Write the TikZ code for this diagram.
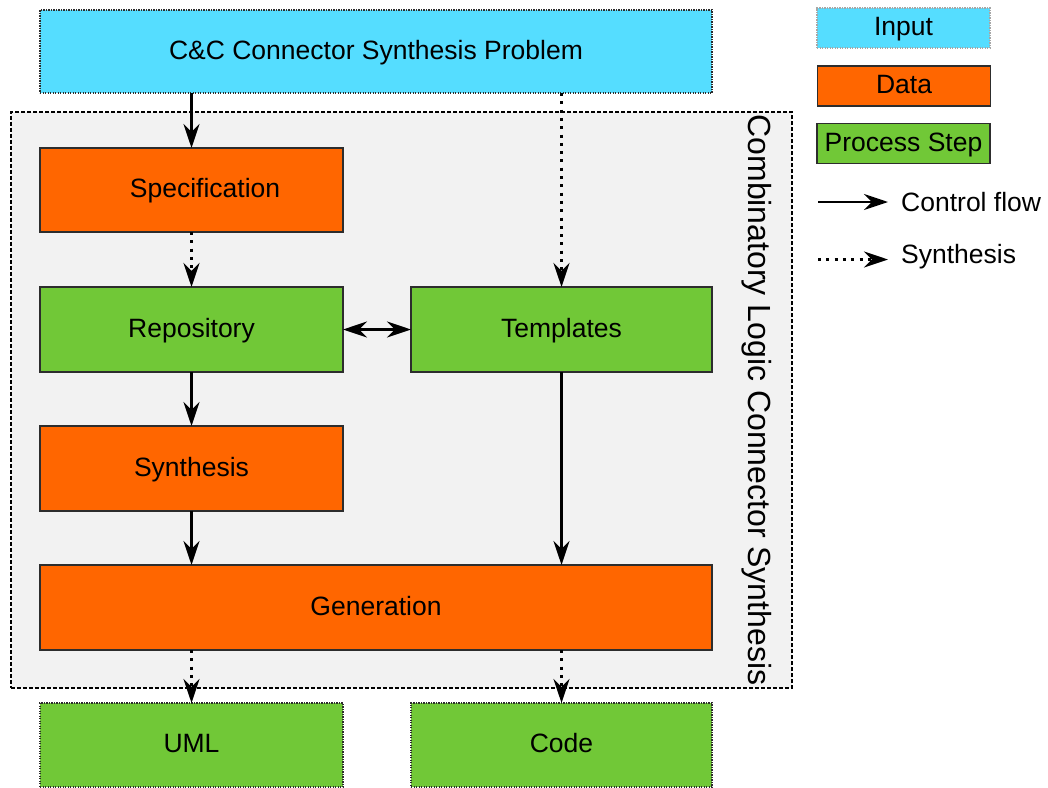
\documentclass[tikz,border=0pt]{standalone}
\usepackage{fontspec}
\setmainfont{Liberation Sans}
\usetikzlibrary{arrows.meta}
\definecolor{inputcol}{RGB}{85,221,255}
\definecolor{datacol}{RGB}{255,102,0}
\definecolor{stepcol}{RGB}{113,200,55}
\definecolor{framecol}{RGB}{242,242,242}
\definecolor{edgecol}{RGB}{45,45,45}
\begin{document}
\begin{tikzpicture}[x=1pt,y=-1pt,
  box/.style={rectangle, inner sep=0pt, outer sep=0pt, text height=19.5pt, text depth=4.5pt,
    font=\fontsize{26.5}{30}\selectfont, text=black},
  databox/.style={box, fill=datacol, draw=edgecol, line width=1.3pt},
  stepbox/.style={box, fill=stepcol, draw=edgecol, line width=1.3pt},
  inputbox/.style={box, fill=inputcol, draw=edgecol, line width=1.2pt, dash pattern=on 1.2pt off 1.3pt},
  outbox/.style={stepbox, dash pattern=on 1.2pt off 1.3pt},
  container/.style={rectangle, inner sep=0pt, fill=framecol, draw=black, line width=1.3pt, dash pattern=on 4pt off 2pt},
  legendtext/.style={font=\fontsize{26.5}{30}\selectfont, anchor=base west, inner sep=0pt},
  tip/.tip={Stealth[length=24pt,width=16pt,inset=8pt]},
  flow/.style={line width=2.8pt, -tip},
  synth/.style={line width=3pt, -tip, dash pattern=on 3pt off 5.3pt},
]
\useasboundingbox (0,0) rectangle (1048,787);

% enclosing synthesis frame
\node[container, minimum width=781, minimum height=576] (frame) at (401.5,400) {};
\node[font=\fontsize{32}{36}\selectfont, rotate=-90, inner sep=0pt] (framelabel) at (757,400) {Combinatory Logic Connector Synthesis};

% input problem
\node[inputbox, minimum width=672, minimum height=83] (problem) at (376,51.5) {C\&C Connector Synthesis Problem};

% pipeline
\node[databox, minimum width=303, minimum height=84] (spec) at (191.5,190) {\hspace*{27pt}Specification};
\node[stepbox, minimum width=303, minimum height=85] (repo) at (191.5,329.5) {Repository};
\node[stepbox, minimum width=301, minimum height=85] (templates) at (561.5,329.5) {Templates};
\node[databox, minimum width=303, minimum height=85] (synthesis) at (191.5,468.5) {Synthesis};
\node[databox, minimum width=672, minimum height=85] (generation) at (376,607.5) {Generation};

% outputs
\node[outbox, minimum width=303, minimum height=84] (uml) at (191.5,745) {UML};
\node[outbox, minimum width=301, minimum height=84] (code) at (561.5,745) {Code};

% connectors
\draw[flow] (problem.south -| spec.north) -- (spec.north);
\draw[synth] (problem.south -| templates.north) -- (templates.north);
\draw[synth] (spec.south -| repo.north) -- (repo.north);
\draw[flow, tip-tip] (repo.east) -- (templates.west);
\draw[flow] (repo.south) -- (synthesis.north);
\draw[flow] (synthesis.south) -- (synthesis.south |- generation.north);
\draw[flow] (templates.south) -- (templates.south |- generation.north);
\draw[synth] (generation.south -| uml.north) -- (uml.north);
\draw[synth] (generation.south -| code.north) -- (code.north);

% legend
\node[inputbox, draw=gray!70, minimum width=173, minimum height=40] (lin) at (903.5,28) {Input};
\node[databox, minimum width=173, minimum height=40] (ldata) at (904,86) {Data};
\node[stepbox, minimum width=173, minimum height=40] (lstep) at (903.5,143.5) {Process Step};
\coordinate (cfa) at (818,202);
\coordinate (cfb) at (888,202);
\draw[flow] (cfa) -- (cfb);
\node[legendtext] (lcf) at (901,211.5) {Control flow};
\coordinate (sya) at (818,259.5);
\coordinate (syb) at (888,259.5);
\draw[synth] (sya) -- (syb);
\node[legendtext] (lsy) at (901,263.5) {Synthesis};
\end{tikzpicture}
\end{document}
